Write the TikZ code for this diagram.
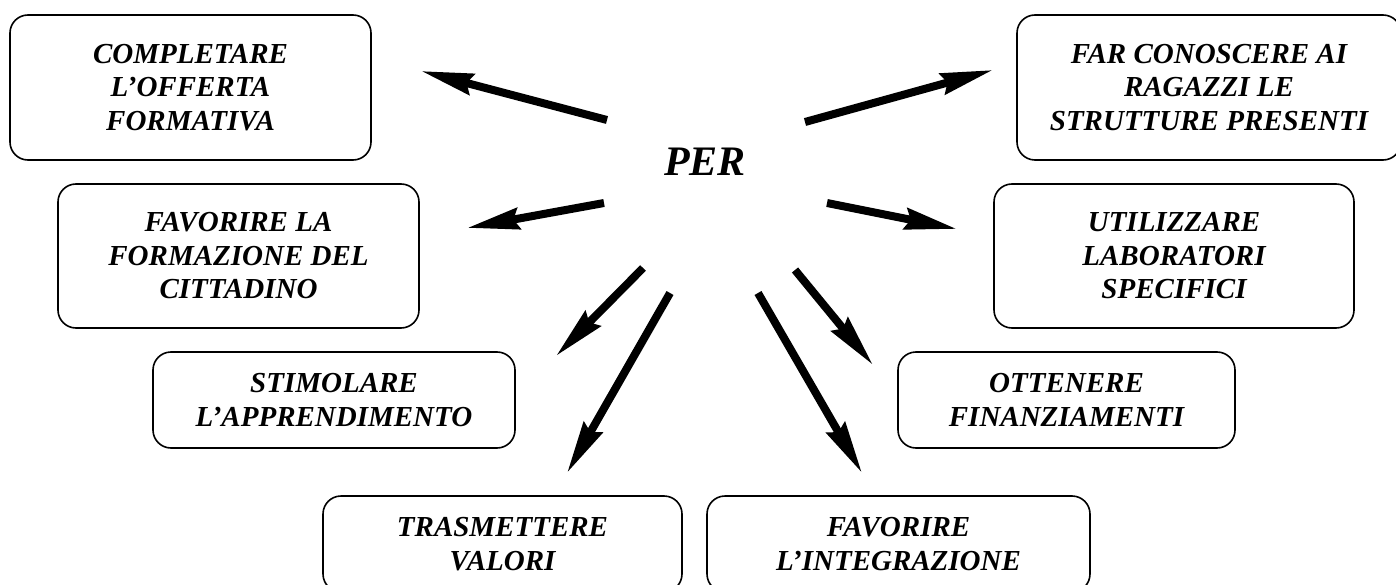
\documentclass[tikz,border=0pt]{standalone}
\usepackage{fontspec}
\setmainfont{Liberation Serif}
\usetikzlibrary{arrows.meta}
\tikzset{
  box/.style={draw, line width=1.6pt, rounded corners=18pt, align=center, inner sep=0pt,
    font=\fontsize{29}{33.5}\selectfont\bfseries\itshape},
  bigarrow/.style={line width=8pt, -{Stealth[length=52pt, width=21pt, inset=5pt]}},
}
\begin{document}
\begin{tikzpicture}[x=1pt, y=-1pt]
\useasboundingbox (0,0) rectangle (1396,585);
\clip (0,0) rectangle (1396,585);
\node[font=\fontsize{42}{48}\selectfont\bfseries\itshape] (per) at (705,162) {PER};
\node[box, minimum width=361pt, minimum height=145pt] (b1) at (190.5,87.5) {COMPLETARE\\L’OFFERTA\\FORMATIVA};
\node[box, minimum width=361pt, minimum height=144pt] (b2) at (238.5,256) {FAVORIRE LA\\FORMAZIONE DEL\\CITTADINO};
\node[box, minimum width=384pt, minimum height=145pt] (b3) at (1209,87.5) {FAR CONOSCERE AI\\RAGAZZI LE\\STRUTTURE PRESENTI};
\node[box, minimum width=360pt, minimum height=144pt] (b4) at (1174,256) {UTILIZZARE\\LABORATORI\\SPECIFICI};
\node[box, minimum width=362pt, minimum height=96pt] (b5) at (334,400) {STIMOLARE\\L’APPRENDIMENTO};
\node[box, minimum width=337pt, minimum height=96pt] (b6) at (1066.5,400) {OTTENERE\\FINANZIAMENTI};
\node[box, minimum width=359pt, minimum height=96pt] (b7) at (502.5,544) {TRASMETTERE\\VALORI};
\node[box, minimum width=383pt, minimum height=96pt] (b8) at (898.5,544) {FAVORIRE\\L’INTEGRAZIONE};
% arrow ends
\coordinate (s1) at (607,120); \coordinate (t1) at (421,71);
\coordinate (s2) at (604,203); \coordinate (t2) at (467,228);
\coordinate (s3) at (643,268); \coordinate (t3) at (556,356);
\coordinate (s4) at (670,293); \coordinate (t4) at (567,473);
\coordinate (s5) at (758,293); \coordinate (t5) at (862,473);
\coordinate (s6) at (795,270); \coordinate (t6) at (873,365);
\coordinate (s7) at (805,122); \coordinate (t7) at (993,70);
\coordinate (s8) at (827,203); \coordinate (t8) at (957,229);
\foreach \i in {1,...,8} {\draw[bigarrow] (s\i) -- (t\i);}
\end{tikzpicture}
\end{document}
